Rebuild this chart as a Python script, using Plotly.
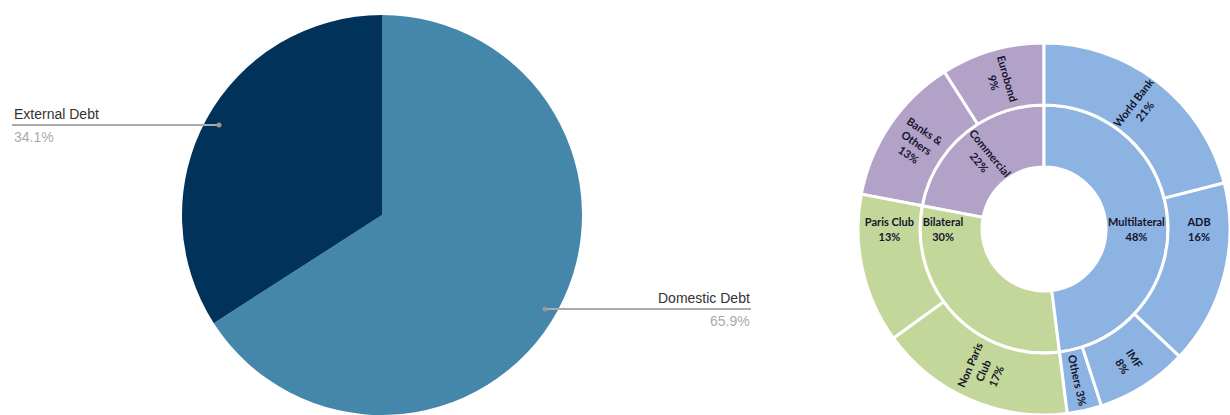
import plotly.graph_objects as go

W, H = 1230, 415

# ---- data ----
# listed in Plotly's drawing order (clockwise from 12 o'clock)
debt_labels = ["Domestic Debt", "External Debt"]
debt_values = [65.9, 34.1]

# listed in Plotly's drawing order (counterclockwise from 12 o'clock)
sb_ids = ["root", "Commercial", "Bilateral", "Multilateral",
          "Eurobond", "Banks & Others",
          "Paris Club", "Non Paris Club",
          "Others", "IMF", "ADB", "World Bank"]
sb_labels = ["", "Commercial", "Bilateral", "Multilateral",
             "Eurobond", "Banks &<br>Others",
             "Paris Club", "Non Paris<br>Club",
             "Others", "IMF", "ADB", "World Bank"]
sb_parents = ["", "root", "root", "root",
              "Commercial", "Commercial",
              "Bilateral", "Bilateral",
              "Multilateral", "Multilateral", "Multilateral", "Multilateral"]
sb_values = [100, 22, 30, 48, 9, 13, 13, 17, 3, 8, 16, 21]

# ---- styles ----
pie_colors = ["#4587AA", "#01325A"]
group_color = {"root": "#FFFFFF", "Multilateral": "#8DB3E2",
               "Bilateral": "#C4D79B", "Commercial": "#B3A2C7"}
sb_colors = []
for i, p in zip(sb_ids, sb_parents):
    sb_colors.append(group_color[i] if i in group_color else group_color[p])

sb_text = []
for lab, v, i in zip(sb_labels, sb_values, sb_ids):
    if i == "root":
        sb_text.append("")
    elif i == "Others":
        sb_text.append(f"<b>{lab} {v}%</b>")
    else:
        sb_text.append(f"<b>{lab}<br>{v}%</b>")

fig = go.Figure()

fig.add_trace(go.Pie(
    labels=debt_labels, values=debt_values, sort=False,
    direction="clockwise", rotation=0,
    marker=dict(colors=pie_colors, line=dict(width=0)),
    textinfo="none", hoverinfo="label+percent", showlegend=False,
    domain=dict(x=[(382 - 200) / W, (382 + 200) / W], y=[0, 1 - 15 / H]),
))

fig.add_trace(go.Sunburst(
    ids=sb_ids, labels=sb_labels, parents=sb_parents, values=sb_values,
    branchvalues="total", sort=False, rotation=90,
    text=sb_text, textinfo="text",
    insidetextorientation="radial",
    leaf=dict(opacity=1),
    marker=dict(colors=sb_colors, line=dict(color="white", width=3)),
    textfont=dict(family="Lato", size=11, color="#14142A"),
    domain=dict(x=[858 / W, 1], y=[0, 1 - 43 / H]),
))

def px(x):
    return x / W

def py(y):
    return 1 - y / H

ext_i = debt_labels.index("External Debt")
dom_i = debt_labels.index("Domestic Debt")

shapes = [
    dict(type="line", xref="paper", yref="paper",
         x0=px(12), x1=px(219), y0=py(125), y1=py(125),
         line=dict(color="#AAAAAA", width=2)),
    dict(type="circle", xref="paper", yref="paper",
         x0=px(216.5), x1=px(221.5), y0=py(122.5), y1=py(127.5),
         fillcolor="#999999", line=dict(width=0)),
    dict(type="line", xref="paper", yref="paper",
         x0=px(545), x1=px(751), y0=py(309), y1=py(309),
         line=dict(color="#AAAAAA", width=2)),
    dict(type="circle", xref="paper", yref="paper",
         x0=px(542.5), x1=px(547.5), y0=py(306.5), y1=py(311.5),
         fillcolor="#999999", line=dict(width=0)),
]

annotations = [
    dict(text=debt_labels[ext_i], x=px(12), y=py(114), xanchor="left", yanchor="middle",
         font=dict(family="Liberation Sans", size=14, color="#333333")),
    dict(text=f"{debt_values[ext_i]}%", x=px(12), y=py(137), xanchor="left", yanchor="middle",
         font=dict(family="Liberation Sans", size=14, color="#AAAAAA")),
    dict(text=debt_labels[dom_i], x=px(752), y=py(298), xanchor="right", yanchor="middle",
         font=dict(family="Liberation Sans", size=14, color="#333333")),
    dict(text=f"{debt_values[dom_i]}%", x=px(752), y=py(321), xanchor="right", yanchor="middle",
         font=dict(family="Liberation Sans", size=14, color="#AAAAAA")),
]
for a in annotations:
    a.update(xref="paper", yref="paper", showarrow=False)

fig.update_layout(
    width=W, height=H, margin=dict(l=0, r=0, t=0, b=0),
    paper_bgcolor="white", plot_bgcolor="white",
    shapes=shapes, annotations=annotations, showlegend=False,
)

fig.write_html("out.html")
